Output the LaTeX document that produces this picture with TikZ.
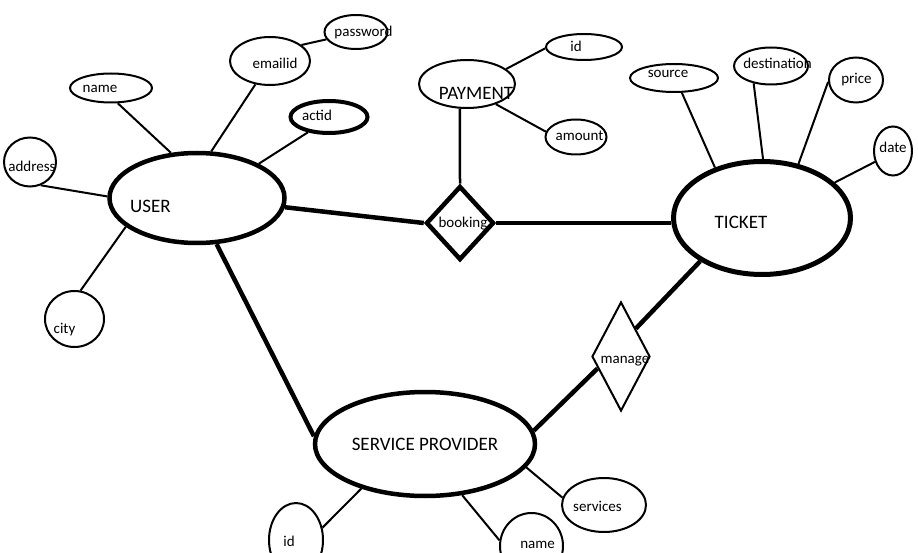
\documentclass[tikz,border=0pt]{standalone}
\usepackage{fontspec}
\setmainfont{Carlito}
\usetikzlibrary{shapes.geometric}
\tikzset{
  attr/.style={ellipse, draw, line width=2pt, inner sep=0pt},
  keyattr/.style={ellipse, draw, line width=4pt, inner sep=0pt},
  ent/.style={ellipse, draw, line width=4.5pt, inner sep=0pt},
  rel/.style={diamond, draw, inner sep=0pt},
  sm/.style={font=\fontsize{15}{17}\selectfont, inner sep=0pt, anchor=base},
  big/.style={font=\fontsize{19}{21}\selectfont, inner sep=0pt, anchor=base},
  lnk/.style={line width=2pt},
  heavy/.style={line width=4.5pt},
}
\begin{document}
\begin{tikzpicture}[x=1pt,y=-1pt]
\useasboundingbox (0,0) rectangle (918,553);
\clip (0,0) rectangle (918,553);
\fill[white] (0,0) rectangle (918,553);

% USER side
\node[ent, minimum width=175pt, minimum height=90pt] (user) at (197,198) {};
\node[attr, minimum width=63pt, minimum height=34pt] (password) at (356,32) {};
\node[attr, minimum width=80pt, minimum height=48pt] (emailid) at (270,61) {};
\node[attr, minimum width=82pt, minimum height=29pt] (name) at (111,88) {};
\node[keyattr, minimum width=77pt, minimum height=32pt] (actid) at (329,117) {};
\node[attr, minimum width=52pt, minimum height=49pt] (address) at (30,162) {};
\node[attr, minimum width=59pt, minimum height=56pt] (city) at (74.5,319) {};

% PAYMENT / booking
\node[attr, minimum width=96pt, minimum height=48pt] (payment) at (467,84) {};
\node[attr, minimum width=76pt, minimum height=26pt] (pid) at (584,47) {};
\node[attr, minimum width=61pt, minimum height=35pt] (amount) at (576,137) {};
\node[rel, line width=4.5pt, minimum width=68pt, minimum height=74pt] (booking) at (460,223) {};

% TICKET side
\node[ent, line width=5pt, minimum width=177pt, minimum height=113pt] (ticket) at (762,218) {};
\node[attr, minimum width=88pt, minimum height=28pt] (source) at (674,78) {};
\node[attr, minimum width=74pt, minimum height=37pt] (destination) at (771,66) {};
\node[attr, minimum width=54pt, minimum height=45pt] (price) at (856,80) {};
\node[attr, minimum width=38pt, minimum height=49pt] (date) at (893,151) {};

% manage / SERVICE PROVIDER
\node[rel, line width=2pt, minimum width=58pt, minimum height=109pt] (manage) at (621,356.5) {};
\node[ent, minimum width=220pt, minimum height=104pt] (sp) at (425,444) {};
\node[attr, minimum width=54pt, minimum height=74pt] (spid) at (296,540) {};
\node[attr, minimum width=63pt, minimum height=66pt] (spname) at (531.5,546) {};
\node[attr, minimum width=84pt, minimum height=54pt] (services) at (604,505) {};

% texts
\node[sm] (passwordT) at (363.5,37) {password};
\node[sm] (emailidT) at (275,69) {emailid};
\node[sm] (nameT) at (100,93) {name};
\node[sm] (actidT) at (317,121) {actid};
\node[sm] (addressT) at (32,172) {address};
\node[big] (userT) at (150.5,213) {USER};
\node[sm] (cityT) at (64.5,333) {city};
\node[big] (paymentT) at (476,100) {PAYMENT};
\node[sm] (pidT) at (576,52) {id};
\node[sm] (amountT) at (579.5,141) {amount};
\node[sm] (bookingT) at (463,228) {booking};
\node[sm] (sourceT) at (668,78) {source};
\node[sm] (destinationT) at (777.5,69) {destination};
\node[sm] (priceT) at (856.5,84) {price};
\node[sm] (dateT) at (893,153) {date};
\node[big] (ticketT) at (741,229) {TICKET};
\node[sm] (manageT) at (625,363) {manage};
\node[big] (spT) at (425,450) {SERVICE PROVIDER};
\node[sm] (servicesT) at (597.5,511) {services};
\node[sm] (spidT) at (289,546) {id};
\node[sm] (spnameT) at (537.5,548) {name};

% connectors
\draw[lnk] (name.-66) -- (user.120);
\draw[lnk] (emailid.238) -- (user.73);
\draw[lnk] (emailid.27) -- (password.194);
\draw[lnk] (actid.216) -- (user.29);
\draw[lnk] (address.-65) -- (user.179);
\draw[lnk] (city.78) -- (user.202);
\draw[heavy] (user.-67) -- (sp.176);
\draw[heavy] (user.-6) -- (booking.west);
\draw[heavy] (booking.east) -- (ticket.west |- booking.east);
\draw[line width=2.5pt] (payment.-106) -- (booking.north);
\draw[lnk] (payment.21) -- (pid.182);
\draw[lnk] (payment.-35) -- (amount.170);
\draw[lnk] (source.-62) -- (ticket.133);
\draw[lnk] (destination.-135) -- (ticket.89);
\draw[lnk] (price.184) -- (ticket.56);
\draw[lnk] (date.211) -- (ticket.26);
\draw[heavy] (ticket.215) -- (manage.62);
\draw[heavy] (manage.207) -- (sp.7);
\draw[lnk] (sp.215) -- (spid.25);
\draw[lnk] (sp.-54) -- (spname.170);
\draw[lnk] (sp.-13) -- (services.170);
\end{tikzpicture}
\end{document}
